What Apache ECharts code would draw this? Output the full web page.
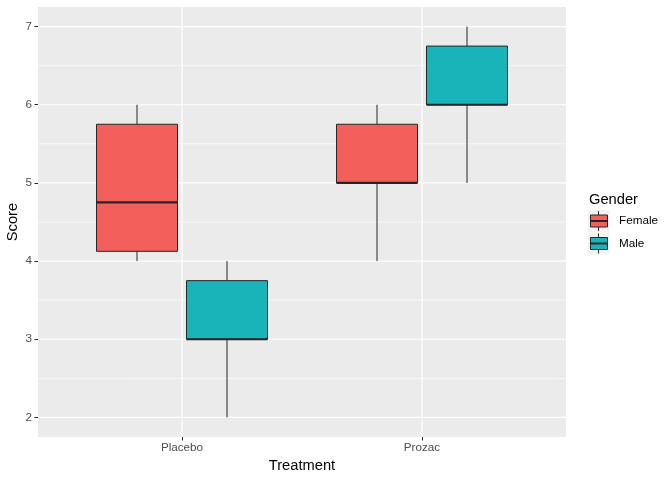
<!DOCTYPE html>
<html>
<head>
<meta charset="utf-8">
<script src="https://cdn.jsdelivr.net/npm/echarts@6/dist/echarts.min.js"></script>
<style>
html,body{margin:0;padding:0;background:#fff;}
#c{width:672px;height:480px;}
</style>
</head>
<body>
<div id="c"></div>
<script>
// ---- data ----
const treatments = ['Placebo', 'Prozac'];
const groups = ['Female', 'Male'];
// [min, Q1, median, Q3, max] per treatment
const femaleStats = [[4, 4.125, 4.75, 5.75, 6], [4, 5, 5, 5.75, 6]];
const maleStats = [[2, 3, 3, 3.75, 4], [5, 6, 6, 6.75, 7]];
const yTicks = [2, 3, 4, 5, 6, 7];
const yMinor = [2.5, 3.5, 4.5, 5.5, 6.5];
const xTicks = [1, 2];

const colors = {Female: '#F3605B', Male: '#19B4B9'};
const outline = '#262626';
const font = 'Liberation Sans, Arial, sans-serif';

const chart = echarts.init(document.getElementById('c'), null, {renderer: 'canvas'});

const dodge = 0.1875;
const boxW = 0.3375;

function boxRender(offset, color) {
  return function (params, api) {
    const xv = api.value(0) + offset;
    const mn = api.value(1), q1 = api.value(2), md = api.value(3), q3 = api.value(4), mx = api.value(5);
    const w = api.size([boxW, 0])[0];
    const pMin = api.coord([xv, mn]);
    const pQ1 = api.coord([xv, q1]);
    const pMd = api.coord([xv, md]);
    const pQ3 = api.coord([xv, q3]);
    const pMx = api.coord([xv, mx]);
    const cx = pMd[0];
    const ls = {stroke: outline, lineWidth: 1};
    return {
      type: 'group',
      children: [
        {type: 'line', shape: {x1: cx, y1: pQ3[1], x2: cx, y2: pMx[1]}, style: ls},
        {type: 'line', shape: {x1: cx, y1: pQ1[1], x2: cx, y2: pMin[1]}, style: ls},
        {type: 'rect', shape: {x: cx - w / 2, y: pQ3[1], width: w, height: pQ1[1] - pQ3[1]},
          style: {fill: color, stroke: outline, lineWidth: 1}},
        {type: 'line', shape: {x1: cx - w / 2, y1: pMd[1], x2: cx + w / 2, y2: pMd[1]},
          style: {stroke: outline, lineWidth: 2.2}}
      ]
    };
  };
}

function toData(stats) {
  return stats.map((s, i) => [i + 1].concat(s));
}

const gridSeries = {
  type: 'custom',
  silent: true,
  z: 1,
  data: [[0]],
  renderItem: function (params, api) {
    const cs = params.coordSys;
    const children = [];
    yMinor.forEach(v => {
      const y = api.coord([1, v])[1];
      children.push({type: 'line', shape: {x1: cs.x, y1: y, x2: cs.x + cs.width, y2: y},
        style: {stroke: '#FFFFFF', lineWidth: 0.6}});
    });
    yTicks.forEach(v => {
      const y = api.coord([1, v])[1];
      children.push({type: 'line', shape: {x1: cs.x, y1: y, x2: cs.x + cs.width, y2: y},
        style: {stroke: '#FFFFFF', lineWidth: 1.2}});
    });
    xTicks.forEach(v => {
      const x = api.coord([v, 4])[0];
      children.push({type: 'line', shape: {x1: x, y1: cs.y, x2: x, y2: cs.y + cs.height},
        style: {stroke: '#FFFFFF', lineWidth: 1.2}});
    });
    return {type: 'group', children: children};
  }
};

const legendKeys = [];
groups.forEach((g, i) => {
  const cy = 221 + i * 22.5;
  legendKeys.push(
    {type: 'rect', shape: {x: 587.5, y: cy - 11, width: 22, height: 22}, style: {fill: '#F2F2F2'}},
    {type: 'line', shape: {x1: 598.5, y1: cy - 10, x2: 598.5, y2: cy + 10}, style: {stroke: outline, lineWidth: 1}},
    {type: 'rect', shape: {x: 590.5, y: cy - 6, width: 17, height: 12}, style: {fill: colors[g], stroke: outline, lineWidth: 1}},
    {type: 'line', shape: {x1: 590.5, y1: cy, x2: 607.5, y2: cy}, style: {stroke: outline, lineWidth: 2}},
    {type: 'text', x: 619, y: cy, style: {text: g, fill: '#000', font: '11.7px ' + font, verticalAlign: 'middle', align: 'left'}}
  );
});

const option = {
  animation: false,
  backgroundColor: '#FFFFFF',
  grid: {left: 38, right: 106, top: 7, bottom: 43, show: true, backgroundColor: '#EBEBEB', borderWidth: 0,
    containLabel: false, outerBoundsMode: 'none'},
  xAxis: {
    type: 'value', min: 0.4, max: 2.6,
    name: 'Treatment', nameLocation: 'middle', nameGap: 21,
    nameTextStyle: {color: '#000', fontSize: 14.7, fontFamily: font},
    axisLine: {show: false},
    splitLine: {show: false},
    axisTick: {show: true, length: 3.5, customValues: xTicks, lineStyle: {color: outline, width: 1}},
    axisLabel: {
      customValues: xTicks, margin: 5, color: '#4D4D4D', fontSize: 11.7, fontFamily: font,
      formatter: v => treatments[Math.round(v) - 1] || ''
    }
  },
  yAxis: {
    type: 'value', min: 1.75, max: 7.25,
    axisLine: {show: false},
    splitLine: {show: false},
    axisTick: {show: true, length: 3.5, customValues: yTicks, lineStyle: {color: outline, width: 1}},
    axisLabel: {customValues: yTicks, margin: 6, color: '#4D4D4D', fontSize: 11.7, fontFamily: font,
      formatter: v => String(v)}
  },
  graphic: [
    {type: 'text', x: 13, y: 222, rotation: Math.PI / 2,
      style: {text: 'Score', fill: '#000', font: '14.7px ' + font, verticalAlign: 'middle', align: 'center'}},
    {type: 'text', x: 589, y: 200, style: {text: 'Gender', fill: '#000', font: '14.7px ' + font, verticalAlign: 'middle', align: 'left'}}
  ].concat(legendKeys),
  series: [
    gridSeries,
    {type: 'custom', name: 'Female', z: 2, data: toData(femaleStats), renderItem: boxRender(-dodge, colors.Female), encode: {x: 0, y: [1, 2, 3, 4, 5]}},
    {type: 'custom', name: 'Male', z: 2, data: toData(maleStats), renderItem: boxRender(dodge, colors.Male), encode: {x: 0, y: [1, 2, 3, 4, 5]}}
  ]
};
chart.setOption(option);
</script>
</body>
</html>
